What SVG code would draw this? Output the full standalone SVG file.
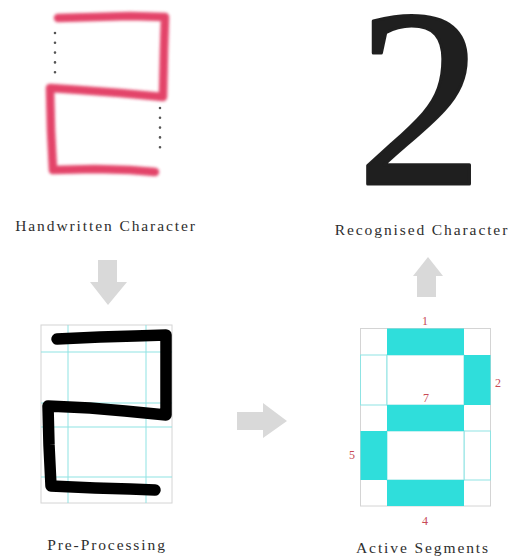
<svg xmlns="http://www.w3.org/2000/svg" width="520" height="556" viewBox="0 0 520 556">
<defs>
<filter id="blur" x="-10%" y="-10%" width="120%" height="120%"><feGaussianBlur stdDeviation="1.5"/></filter>
</defs>
<style>
.lbl{font-family:"Liberation Serif",serif;font-size:15.5px;fill:#2e2e2e;letter-spacing:1.9px;text-anchor:middle}
.num{font-family:"Liberation Serif",serif;font-size:12px;fill:#c84a55;text-anchor:middle}
.arrow{fill:#d9d9d9}
.cell{fill:#fff;stroke:#8fe3e3;stroke-width:1}
.seg{fill:#2fdedb}
.gl{stroke:#8fe3e3;stroke-width:1;fill:none}
.outer{fill:none;stroke:#d4d4d4;stroke-width:1}
.dots{stroke:#555;stroke-width:2.6;stroke-linecap:round;stroke-dasharray:0 9.8}
</style>
<rect width="520" height="556" fill="#fff"/>

<g id="handwritten">
<path d="M58 18 L95 17 L130 16 L165 17 L164 50 L163 97 L120 93 L80 90 L50 88 L51 130 L53 170 L95 169 L130 170 L155 172" fill="none" stroke="#e23a62" stroke-width="8.5" stroke-linejoin="round" stroke-linecap="round" filter="url(#blur)" opacity="0.95"/>
<line x1="55" y1="33" x2="55" y2="82" class="dots"/>
<line x1="160" y1="108" x2="160" y2="157" class="dots"/>
<text x="106" y="231" class="lbl">Handwritten Character</text>
</g>

<g id="recognised">
<text x="420" y="184" font-family="'Liberation Serif',serif" font-size="254" fill="#1f1f1f" stroke="#1f1f1f" stroke-width="3" stroke-linejoin="round" text-anchor="middle">2</text>
<text x="422" y="235" class="lbl">Recognised Character</text>
</g>

<g id="preprocessing">
<rect x="41" y="325" width="131" height="178" class="outer"/>
<line x1="68" y1="325" x2="68" y2="503" class="gl"/>
<line x1="146" y1="325" x2="146" y2="503" class="gl"/>
<line x1="41" y1="352" x2="172" y2="352" class="gl"/>
<line x1="41" y1="403" x2="172" y2="403" class="gl"/>
<line x1="41" y1="427" x2="172" y2="427" class="gl"/>
<line x1="41" y1="477" x2="172" y2="477" class="gl"/>
<path d="M57 339 L100 337 L135 336 L166 335 L166 370 L166 415 L125 411 L90 408 L48 406 L49 445 L51 486 L95 488 L130 489 L155 490" fill="none" stroke="#000" stroke-width="11.5" stroke-linejoin="round" stroke-linecap="round"/>
<text x="107" y="550" class="lbl">Pre-Processing</text>
</g>

<g id="segments">
<rect x="360.5" y="328.5" width="130" height="177.5" class="outer"/>
<rect x="360.5" y="355" width="26.5" height="50" class="cell"/>
<rect x="387" y="355" width="77" height="50" class="cell"/>
<rect x="464" y="431" width="26.5" height="49" class="cell"/>
<rect x="387" y="431" width="77" height="49" class="cell"/>
<rect x="387" y="328.5" width="77" height="26.5" class="seg"/>
<rect x="464" y="355" width="26.5" height="50" class="seg"/>
<rect x="387" y="405" width="77" height="26" class="seg"/>
<rect x="360.5" y="431" width="26.5" height="49" class="seg"/>
<rect x="387" y="480" width="77" height="26" class="seg"/>
<text x="425" y="325" class="num">1</text>
<text x="498" y="387" class="num">2</text>
<text x="426" y="402" class="num">7</text>
<text x="352" y="459" class="num">5</text>
<text x="425" y="525" class="num">4</text>
<text x="423" y="553" class="lbl">Active Segments</text>
</g>

<g id="connectors">
<polygon class="arrow" points="98,260 117,260 117,282 127,282 108,305 90,282 98,282"/>
<polygon class="arrow" points="237,412 263,412 263,403 287,421 263,438 263,430 237,430"/>
<polygon class="arrow" points="417,297 436,297 436,276 443,276 428,257 413,276 417,276"/>
</g>
</svg>
